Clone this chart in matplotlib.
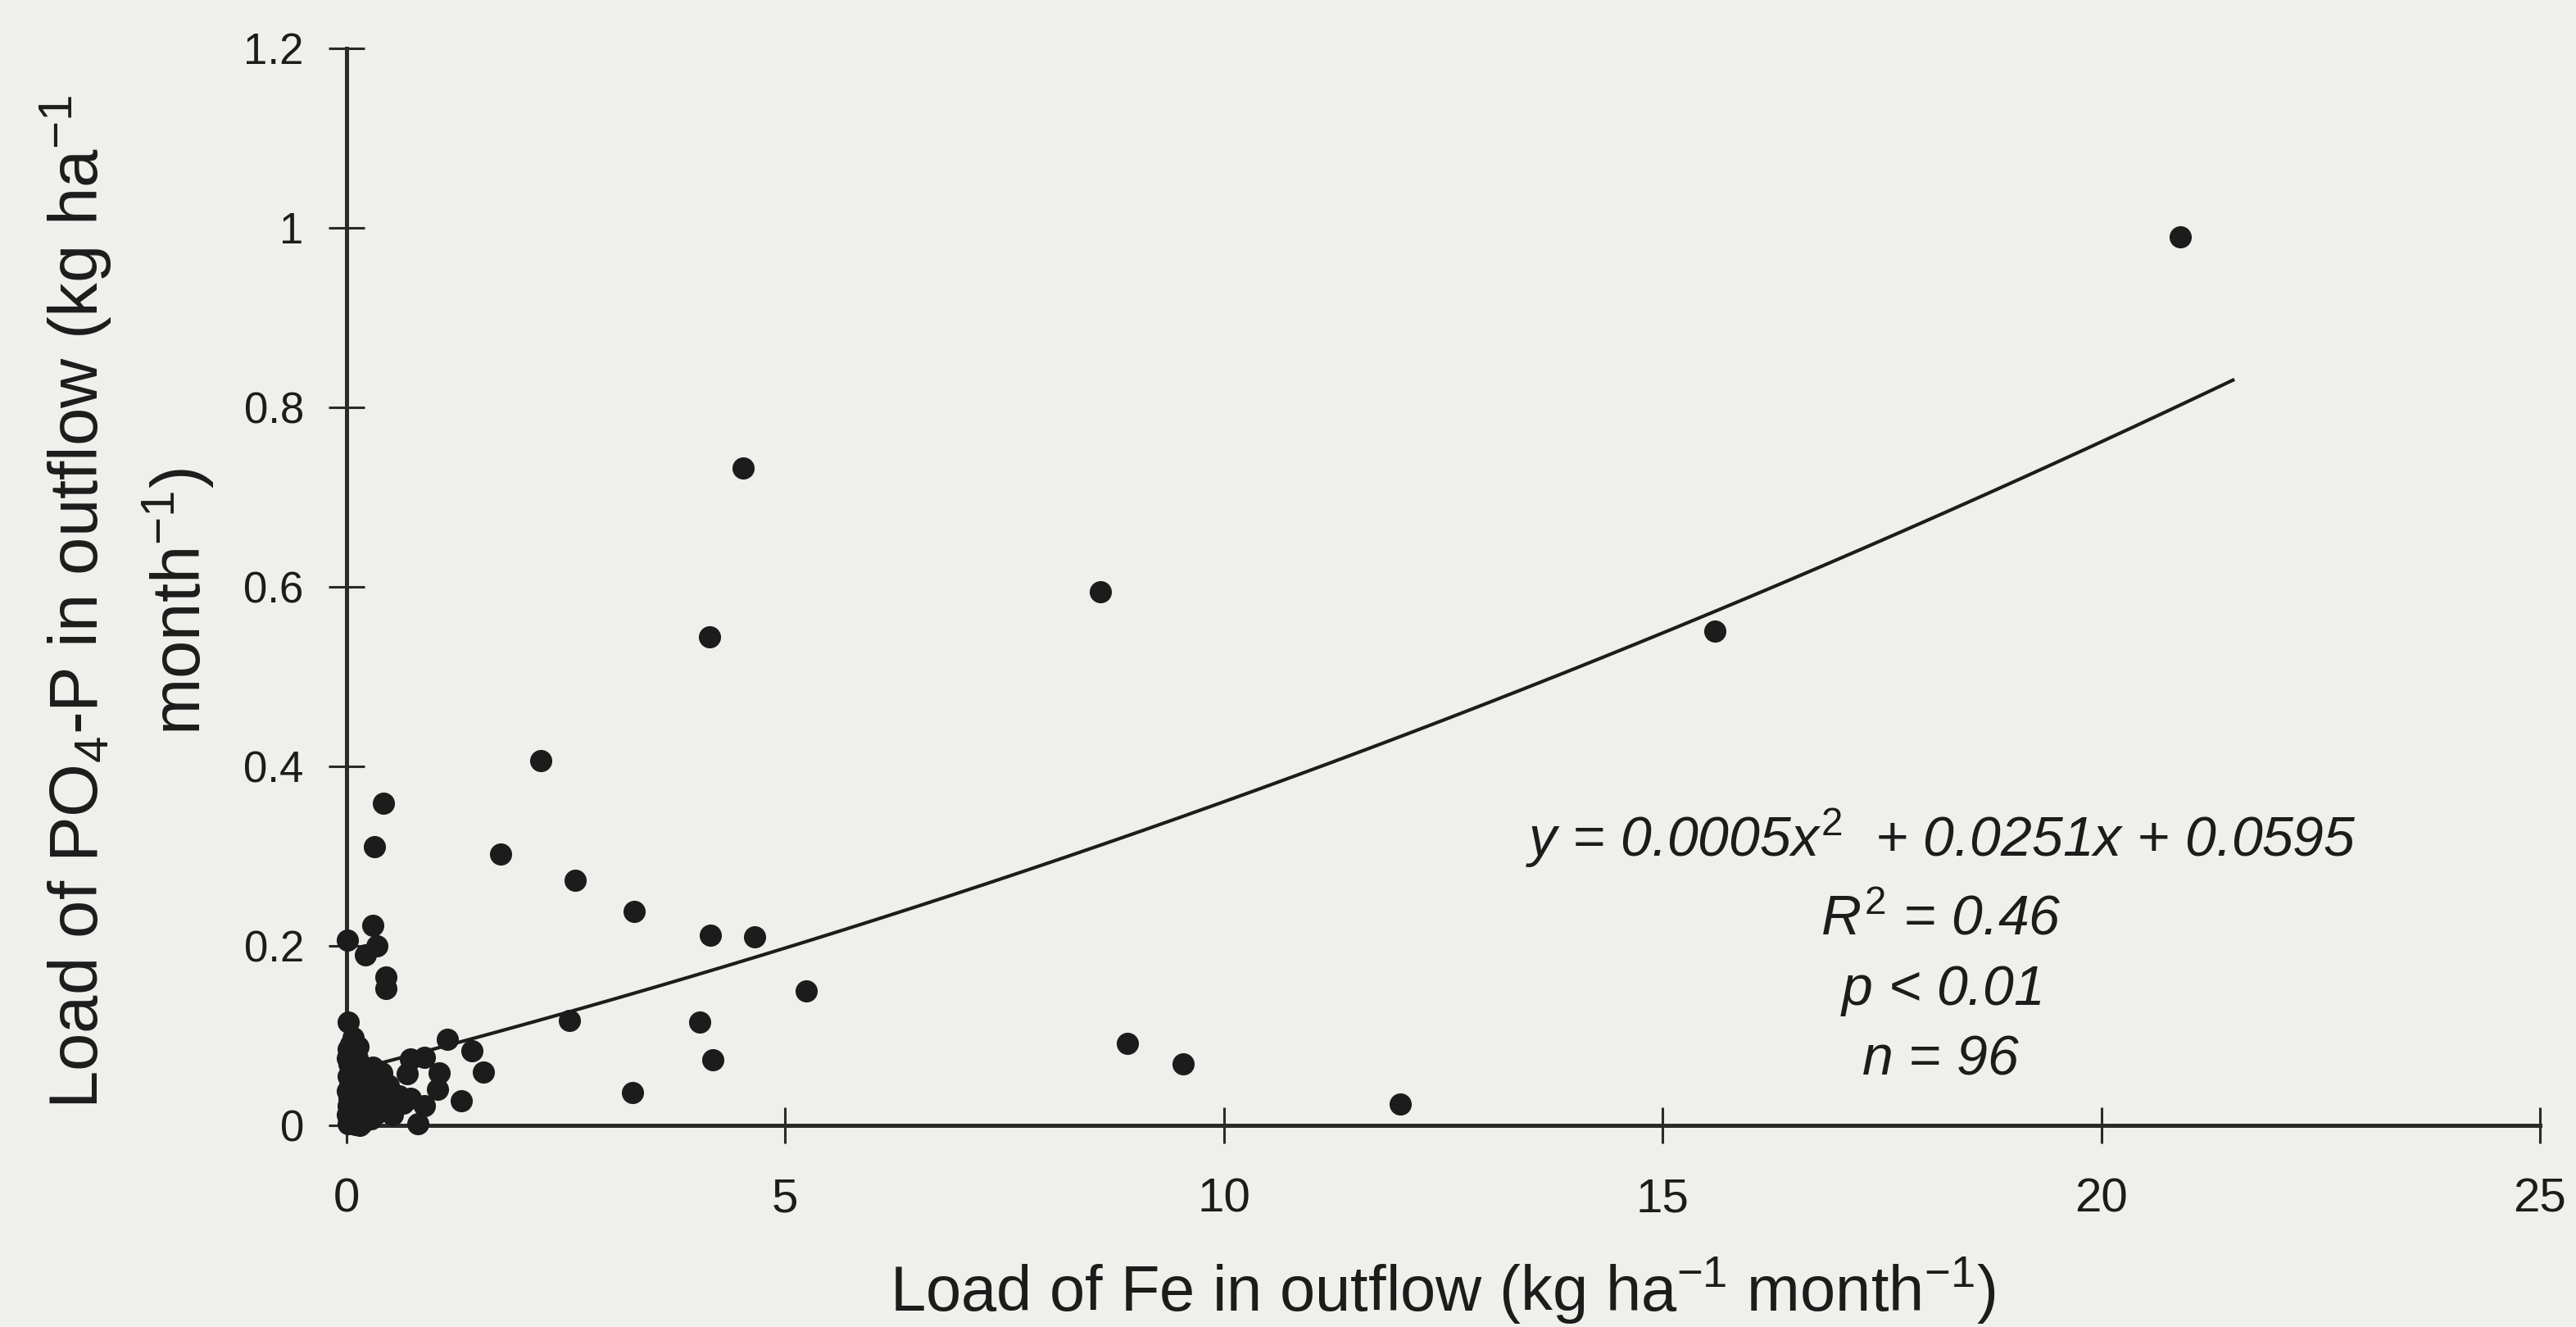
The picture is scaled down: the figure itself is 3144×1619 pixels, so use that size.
import matplotlib
matplotlib.use("Agg")
import numpy as np
import matplotlib.pyplot as plt

plt.rcParams['font.family'] = ['Liberation Sans', 'DejaVu Sans']
plt.rcParams['mathtext.fontset'] = 'custom'
plt.rcParams['mathtext.rm'] = 'Liberation Sans'
plt.rcParams['mathtext.it'] = 'Liberation Sans:italic'

# Fe load vs PO4-P load, monthly outflow values
fe_load = [
    20.9, 4.52, 8.59, 15.6, 4.14, 2.21, 0.42, 0.32, 1.76, 2.61,
    3.28, 0.30, 4.15, 4.65, 0.01, 0.35, 0.22, 0.45, 0.45, 5.24,
    2.54, 4.03, 8.90, 4.18, 9.54, 3.26, 12.01,
    0.02, 0.08, 0.13, 1.15, 1.43, 0.73, 0.89, 1.56, 0.69, 1.06,
    1.04, 1.31, 0.81, 0.73, 0.89,
    0.01, 0.03, 0.05, 0.02, 0.08, 0.04, 0.12, 0.01, 0.06, 0.15,
    0.03, 0.09, 0.20, 0.02, 0.11, 0.25, 0.05, 0.16, 0.30, 0.01,
    0.08, 0.22, 0.35, 0.04, 0.13, 0.28, 0.42, 0.02, 0.10, 0.18,
    0.50, 0.38, 0.45, 0.32, 0.25, 0.18, 0.10, 0.14, 0.06, 0.20,
    0.28, 0.35, 0.55, 0.60, 0.48, 0.40, 0.12, 0.07, 0.15, 0.24,
    0.05, 0.02, 0.30, 0.03, 0.52, 0.65,
]
po4_load = [
    0.99, 0.732, 0.594, 0.551, 0.544, 0.406, 0.359, 0.310, 0.302, 0.273,
    0.238, 0.223, 0.212, 0.210, 0.206, 0.200, 0.190, 0.165, 0.152, 0.150,
    0.117, 0.115, 0.091, 0.073, 0.068, 0.036, 0.024,
    0.115, 0.098, 0.088, 0.096, 0.083, 0.074, 0.076, 0.059, 0.057, 0.058,
    0.040, 0.027, 0.002, 0.030, 0.022,
    0.075, 0.068, 0.062, 0.055, 0.050, 0.045, 0.042, 0.038, 0.035, 0.033,
    0.030, 0.028, 0.026, 0.022, 0.020, 0.021, 0.017, 0.015, 0.018, 0.012,
    0.010, 0.011, 0.014, 0.006, 0.005, 0.007, 0.016, 0.002, 0.001, 0.003,
    0.022, 0.030, 0.035, 0.040, 0.045, 0.052, 0.060, 0.068, 0.080, 0.062,
    0.055, 0.050, 0.028, 0.033, 0.045, 0.058, 0.075, 0.003, 0.000, 0.033,
    0.090, 0.085, 0.065, 0.010, 0.012, 0.025,
]

# quadratic fit  y = a x^2 + b x + c
fit_coef = [0.0005, 0.0251, 0.0595]
fit_range = [0.0, 21.5]

x_ticks = [0, 5, 10, 15, 20, 25]
y_ticks = [0, 0.2, 0.4, 0.6, 0.8, 1.0, 1.2]
y_tick_labels = ['0', '0.2', '0.4', '0.6', '0.8', '1', '1.2']

stats_lines = [
    r'$y$ = 0.0005$x^{\mathit{2}}$  + 0.0251$x$ + 0.0595',
    r'$R^{\mathit{2}}$ = 0.46',
    r'$p$ < 0.01',
    r'$n$ = 96',
]

paper = '#efefeb'
ink = '#1c1c1c'

fig = plt.figure(figsize=(15.72, 8.095), dpi=200, facecolor=paper)
ax = fig.add_axes([0.1345, 0.152, 0.8515, 0.8116])
ax.set_facecolor(paper)

ax.scatter(fe_load, po4_load, s=95, color=ink, zorder=3, clip_on=False, linewidths=0)

xx = np.linspace(fit_range[0], fit_range[1], 200)
ax.plot(xx, np.polyval(fit_coef, xx), color=ink, lw=1.5, zorder=2)

ax.set_xlim(0, 25)
ax.set_ylim(0, 1.2)
for side in ['top', 'right']:
    ax.spines[side].set_visible(False)
for side in ['left', 'bottom']:
    ax.spines[side].set_linewidth(1.8)
    ax.spines[side].set_color('#2a2a2a')

ax.set_xticks(x_ticks)
ax.set_xticklabels([str(t) for t in x_ticks])
ax.set_yticks(y_ticks)
ax.set_yticklabels(y_tick_labels)
ax.tick_params(axis='both', direction='inout', length=15.5, width=1.1,
               color='#2a2a2a', labelcolor=ink)
ax.tick_params(axis='x', pad=15, labelsize=21)
ax.tick_params(axis='y', pad=11, labelsize=19)

ax.set_xlabel(r'Load of Fe in outflow (kg ha$^{\mathrm{-1}}$ month$^{\mathrm{-1}}$)',
              fontsize=28, color=ink, labelpad=15)
ax.text(-0.1, 0.486,
        'Load of PO$_{\\mathrm{4}}$-P in outflow (kg ha$^{\\mathrm{-1}}$\n'
        'month$^{\\mathrm{-1}}$)',
        transform=ax.transAxes, rotation=90, ha='center', va='center',
        multialignment='center', fontsize=30, color=ink, linespacing=1.45)

stats_y = [0.32, 0.229, 0.150, 0.073]
for line, yy in zip(stats_lines, stats_y):
    ax.text(18.17, yy, line, ha='center', va='center', fontsize=24.5,
            style='italic', color=ink)

fig.savefig('out.png', dpi=200, facecolor=paper)
